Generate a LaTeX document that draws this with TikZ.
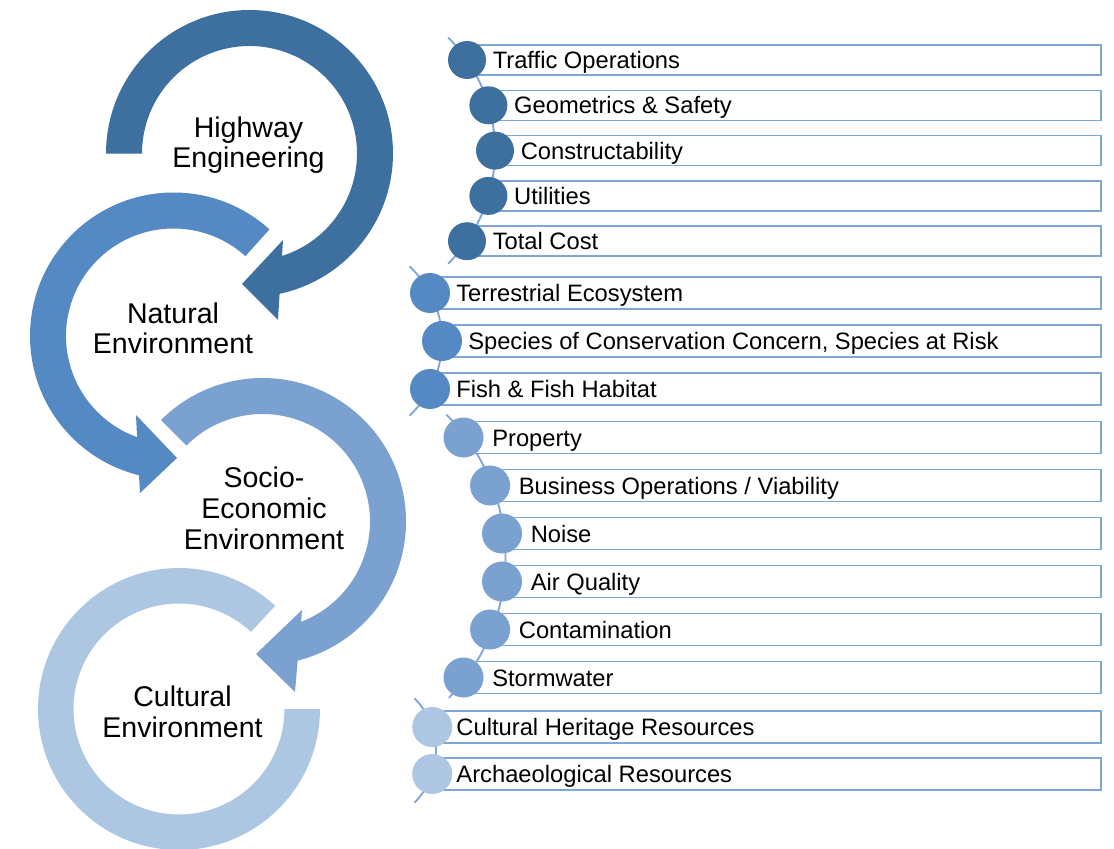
\documentclass[tikz,border=0pt]{standalone}
\usepackage{fontspec}
\setmainfont{Liberation Sans}
\definecolor{cA}{RGB}{61,112,158}
\definecolor{cB}{RGB}{84,137,195}
\definecolor{cC}{RGB}{122,161,207}
\definecolor{cD}{RGB}{173,199,227}
\definecolor{edgec}{RGB}{128,166,216}
\begin{document}
\begin{tikzpicture}[x=0.75pt,y=-0.75pt,
  lbl/.style={align=center, inner sep=0pt, font=\fontsize{21.4}{22.9}\selectfont},
  itm/.style={anchor=west, inner sep=0pt, text height=12.75pt, text depth=0pt, font=\fontsize{17.8}{21}\selectfont},
  rowbox/.style={draw=edgec, fill=white, line width=1.1pt},
  spine/.style={draw=edgec, line width=1.4pt},
  dotbase/.style={circle, inner sep=0pt, draw=none},
  dotA/.style={dotbase, minimum size=28.5pt, fill=cA},
  dotB/.style={dotbase, minimum size=30pt, fill=cB},
  dotC/.style={dotbase, minimum size=30pt, fill=cC},
  dotD/.style={dotbase, minimum size=30pt, fill=cD}]
\useasboundingbox (0,0) rectangle (1114,849);
\clip (0,0) rectangle (1114,849);

% ---------- circular arrows ----------
\coordinate (C1) at (249.5,153.5);
\coordinate (C2) at (173.5,336);
\coordinate (C3) at (262.5,521.5);
\coordinate (C4) at (179,709);

\coordinate (A1) at (283,240); \coordinate (T1) at (242,284); \coordinate (B1) at (278,320);
\coordinate (A2) at (136,415); \coordinate (T2) at (177,458); \coordinate (B2) at (140,493);
\coordinate (A3) at (302,610); \coordinate (T3) at (256,654); \coordinate (B3) at (295,692);

% Cultural ring (no head)
\fill[cD] ([shift={(0:141)}]C4) arc[start angle=0, end angle=313, radius=141]
  -- ([shift={(313:105.5)}]C4) arc[start angle=313, end angle=0, radius=105.5] -- cycle;

% Socio-economic arrow
\fill[cC] ([shift={(225:143.5)}]C3) arc[start angle=225, end angle=435.8, radius=143.5]
  -- (B3) -- (T3) -- (A3)
  -- ([shift={(429:107.5)}]C3) arc[start angle=429, end angle=225, radius=107.5] -- cycle;

% Natural environment arrow
\fill[cB] ([shift={(312:143.5)}]C2) arc[start angle=312, end angle=103.9, radius=143.5]
  -- (B2) -- (T2) -- (A2)
  -- ([shift={(109.8:107.5)}]C2) arc[start angle=109.8, end angle=312, radius=107.5] -- cycle;

% Highway engineering arrow
\fill[cA] ([shift={(180:143.5)}]C1) arc[start angle=180, end angle=437.9, radius=143.5]
  -- (B1) -- (T1) -- (A1)
  -- ([shift={(432.4:107.5)}]C1) arc[start angle=432.4, end angle=180, radius=107.5] -- cycle;

\node[lbl] (heng) at (248.5,145) {Highway\\Engineering};
\node[lbl] (nenv) at (173,328.3) {Natural\\Environment};
\node[lbl] (senv) at (264,508.3) {Socio-\\Economic\\Environment};
\node[lbl] (cenv) at (182.5,712) {Cultural\\Environment};

% ---------- spines ----------
\coordinate (S1) at (335,150.6);
\coordinate (S2) at (340,341);
\coordinate (S3) at (303.5,557.5);
\coordinate (S4) at (362,750.5);
\draw[spine] ([shift={(-45:160)}]S1) arc[start angle=-45, end angle=45, radius=160];
\draw[spine] ([shift={(-47:102)}]S2) arc[start angle=-47, end angle=47, radius=102];
\draw[spine] ([shift={(-45:202)}]S3) arc[start angle=-45, end angle=44, radius=202];
\draw[spine] ([shift={(-45:74)}]S4) arc[start angle=-45, end angle=45, radius=74];

% ---------- list rows ----------
\foreach \nm/\yy/\xx/\tx in {
  ta/60/467/Traffic Operations,
  tb/105.3/488.4/Geometrics \& Safety,
  tc/150.6/495/Constructability,
  td/195.9/488.4/Utilities,
  te/241.2/467/Total Cost}{
  \draw[rowbox] (\xx,\yy-15) rectangle (1101,\yy+15);
  \node[dotA] (d\nm) at (\xx,\yy) {};
  \node[itm] (\nm) at (\xx+25.5,\yy) {\tx};
}
\foreach \nm/\yy/\xx/\tx in {
  na/293/430/Terrestrial Ecosystem,
  nb/341/442/{Species of Conservation Concern, Species at Risk},
  nc/389/430/Fish \& Fish Habitat}{
  \draw[rowbox] (\xx,\yy-16) rectangle (1101,\yy+16);
  \node[dotB] (d\nm) at (\xx,\yy) {};
  \node[itm] (\nm) at (\xx+26,\yy) {\tx};
}
\foreach \nm/\yy/\xx/\tx in {
  sa/437.5/463.5/Property,
  sb/485.5/490.1/{Business Operations / Viability},
  sc/533.5/502/Noise,
  sd/581.5/502/Air Quality,
  se/629.5/490.1/Contamination,
  sf/677.5/463.5/Stormwater}{
  \draw[rowbox] (\xx,\yy-16) rectangle (1101,\yy+16);
  \node[dotC] (d\nm) at (\xx,\yy) {};
  \node[itm] (\nm) at (\xx+28.5,\yy) {\tx};
}
\foreach \nm/\yy/\xx/\tx in {
  ca/727/432.2/Cultural Heritage Resources,
  cb/774/432.2/Archaeological Resources}{
  \draw[rowbox] (\xx,\yy-16) rectangle (1101,\yy+16);
  \node[dotD] (d\nm) at (\xx,\yy) {};
  \node[itm] (\nm) at (\xx+24,\yy) {\tx};
}
\end{tikzpicture}
\end{document}
